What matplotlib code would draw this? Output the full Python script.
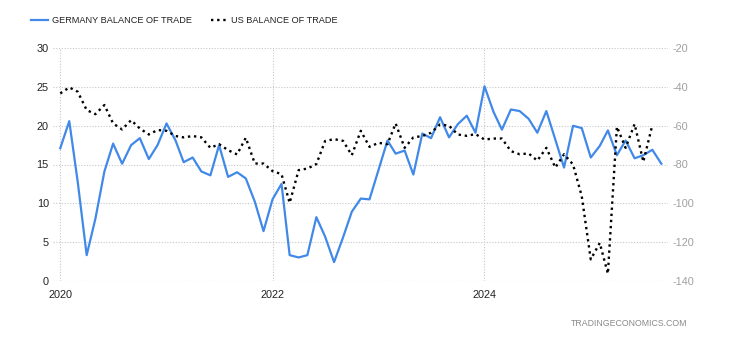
import numpy as np
import pandas as pd
import matplotlib
matplotlib.use("Agg")
import matplotlib.pyplot as plt

plt.rcParams['font.family'] = ['Liberation Sans', 'DejaVu Sans']
plt.rcParams['axes.unicode_minus'] = False

# monthly data, Jan 2020 onwards
germany_dates = pd.date_range("2020-01-01", periods=69, freq="MS")
germany = [17.1, 20.6, 12.8, 3.3, 8.0, 14.1, 17.7, 15.1, 17.5, 18.4, 15.7, 17.5,
           20.3, 18.1, 15.3, 15.9, 14.1, 13.6, 17.5, 13.4, 14.0, 13.2, 10.2, 6.4,
           10.5, 12.5, 3.3, 3.0, 3.3, 8.2, 5.7, 2.4, 5.6, 8.9, 10.6, 10.5,
           14.3, 18.1, 16.4, 16.8, 13.7, 19.0, 18.4, 21.1, 18.5, 20.2, 21.3, 19.1,
           25.1, 21.8, 19.5, 22.1, 21.9, 20.9, 19.1, 21.9, 18.2, 14.6, 20.0, 19.7,
           15.9, 17.4, 19.4, 16.2, 18.1, 15.8, 16.2, 16.9, 15.1]

us_dates = pd.date_range("2020-01-01", periods=68, freq="MS")
us = [-43.3, -40.2, -42.4, -51.9, -54.0, -49.3, -58.8, -61.9, -57.1, -61.4, -64.5, -62.2,
      -62.6, -65.3, -66.0, -65.3, -66.0, -71.4, -69.5, -72.6, -74.8, -66.2, -79.5, -79.5,
      -83.4, -85.0, -99.8, -82.9, -82.1, -79.8, -67.9, -66.9, -67.8, -75.2, -62.6, -70.9,
      -68.8, -69.5, -58.8, -71.4, -66.0, -65.3, -63.6, -59.3, -60.0, -64.5, -65.2, -64.3,
      -67.1, -66.6, -66.6, -73.1, -74.7, -74.3, -78.0, -71.4, -81.6, -74.7, -80.0, -96.4,
      -129.0, -120.5, -136.4, -60.5, -71.4, -59.1, -78.6, -59.7]

left_ticks = [0, 5, 10, 15, 20, 25, 30]
right_ticks = [-140, -120, -100, -80, -60, -40, -20]
year_ticks = ["2020", "2022", "2024"]

fig = plt.figure(figsize=(7.3, 3.4), dpi=100)
ax = fig.add_axes([53/730, 1-280.7/340, (668-53)/730, (280.7-48.3)/340])
ax2 = ax.twinx()

blue = '#4189e8'
l1, = ax.plot(germany_dates, germany, color=blue, lw=1.6, label='GERMANY BALANCE OF TRADE',
              zorder=3, clip_on=False)
l2, = ax2.plot(us_dates, us, color='black', lw=1.7, linestyle=(0, (1, 1.6)),
               label='US BALANCE OF TRADE', zorder=3, clip_on=False)

ax.set_ylim(0, 30)
ax2.set_ylim(-140, -20)
ax.set_yticks(left_ticks)
ax2.set_yticks(right_ticks)
ax.set_xlim(pd.Timestamp("2019-12-07"), pd.Timestamp("2025-09-24"))
ax.set_xticks([pd.Timestamp(y + "-01-01") for y in year_ticks])
ax.set_xticklabels(year_ticks)

ax.grid(True, color='#c8c8c8', linestyle=(0, (1, 1.5)), lw=0.8)
for a in (ax, ax2):
    for s in a.spines.values():
        s.set_visible(False)
ax.tick_params(axis='both', length=0, labelsize=7.8, colors='#222222')
ax.tick_params(axis='y', pad=3)
ax.tick_params(axis='x', pad=7)
ax2.tick_params(axis='y', length=0, labelsize=7.8, colors='#a0a0a0', pad=3)

fig.legend(handles=[l1, l2], loc='center left', bbox_to_anchor=(0.031, 0.94), ncol=2,
           frameon=False, fontsize=6.6, handlelength=1.9, handletextpad=0.35,
           columnspacing=2.1, labelcolor='#222222')

fig.text(687/730, 1-324/340, 'TRADINGECONOMICS.COM', ha='right', va='center',
         fontsize=6.3, color='#8a8a8a')

fig.savefig('out.png', dpi=100)
